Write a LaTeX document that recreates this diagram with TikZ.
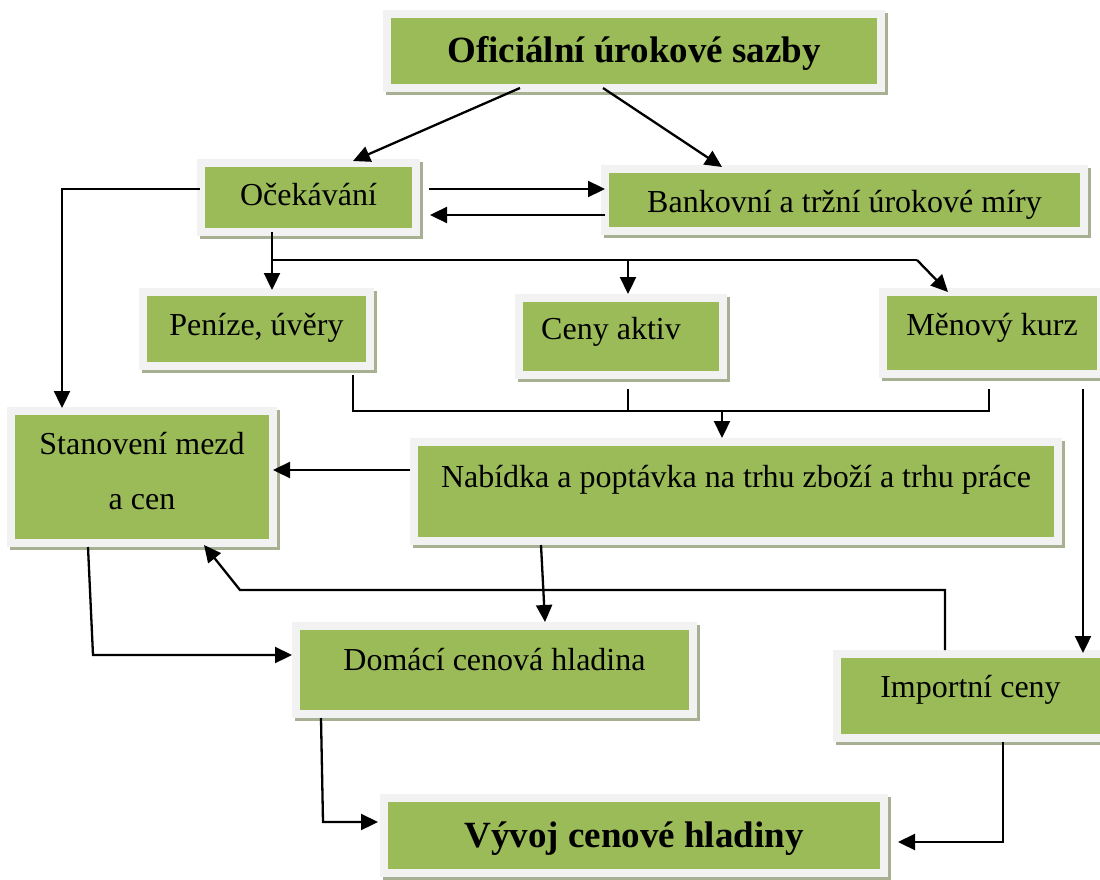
\documentclass[tikz,border=0pt]{standalone}
\usepackage{fontspec}
\setmainfont{Liberation Serif}
\usetikzlibrary{arrows.meta}
\definecolor{boxgreen}{HTML}{9BBB59}
\definecolor{framegray}{HTML}{F2F2F2}
\definecolor{shadowcol}{HTML}{A8B094}
\tikzset{
 box/.style={rectangle, fill=boxgreen, draw=framegray, line width=8pt, inner sep=0pt,
   preaction={draw=shadowcol, fill=shadowcol, line width=8pt, transform canvas={shift={(3pt,-3pt)}}},
   font=\fontsize{32}{38}\selectfont},
 bigbox/.style={box, font=\fontsize{37}{44}\selectfont\bfseries},
 tpos/.style={text height=40pt, text depth=#1},
 arr/.style={line width=2.3pt, -{Triangle[length=17pt,width=16pt]}},
 busline/.style={line width=1.6pt}
}
\begin{document}
\begin{tikzpicture}[x=1pt,y=-1pt]
\useasboundingbox (0,0) rectangle (1100,880);
% boxes
\node[bigbox, tpos=16pt, minimum width=494pt, minimum height=74pt] (ofic) at (634,51) {Oficiální úrokové sazby};
\node[box, tpos=25pt, minimum width=215pt, minimum height=69pt] (ocek) at (308.5,197.5) {Očekávání};
\node[box, tpos=16pt, minimum width=479pt, minimum height=62pt] (bank) at (844.5,200) {Bankovní a tržní úrokové míry};
\node[box, tpos=28pt, minimum width=227pt, minimum height=74pt] (peni) at (256.5,329) {Peníze, úvěry};
\node[box, tpos=34pt, minimum width=204pt, minimum height=77pt] (ceny) at (621,336.5) {Ceny aktiv\hspace*{20pt}};
\node[box, tpos=36pt, minimum width=218pt, minimum height=82pt] (menov) at (992,333) {Měnový kurz};
\node[box, align=center, font=\fontsize{32}{55}\selectfont, minimum width=262pt, minimum height=132pt] (stan) at (142,477) {Stanovení mezd\\a cen\rule[-13pt]{0pt}{13pt}};
\node[box, tpos=49pt, minimum width=644pt, minimum height=99pt] (nab) at (736,491.5) {Nabídka a poptávka na trhu zboží a trhu práce};
\node[box, tpos=40pt, minimum width=397pt, minimum height=88pt] (dom) at (494.5,670) {Domácí cenová hladina};
\node[box, tpos=38pt, minimum width=267pt, minimum height=84pt] (imp) at (970.5,696) {Importní ceny};
\node[bigbox, tpos=17pt, minimum width=500pt, minimum height=75pt] (vyv) at (634,835.5) {Vývoj cenové hladiny};
% helper coordinates
\coordinate (busL) at ([xshift=-36.5pt,yshift=-24pt]ocek.south);
\coordinate (busR) at ([xshift=-75pt,yshift=28pt]menov.north);
\coordinate (cenyTop) at ([xshift=7pt]ceny.north);
\coordinate (busB) at ([xshift=-14pt,yshift=27pt]nab.north);
\coordinate (mkB) at ([xshift=-3pt,yshift=-33pt]menov.south);
\coordinate (ic) at ([xshift=-25.5pt]imp.north);
\coordinate (corner) at ([xshift=98pt,yshift=-43pt]stan.south);
\coordinate (c12) at ([xshift=-199pt,yshift=15pt]dom.west);
\coordinate (c13) at ([xshift=-57pt,yshift=13.5pt]vyv.west);
% connectors
\draw[arr] ([xshift=-114pt,yshift=4pt]ofic.south) -- ([xshift=44.5pt,yshift=-2pt]ocek.north);
\draw[arr] ([xshift=-31pt,yshift=4pt]ofic.south) -- ([xshift=-122.5pt,yshift=-2pt]bank.north);
\draw[arr] ([xshift=9pt,yshift=8.5pt]ocek.east) -- ([xshift=4pt,yshift=11pt]bank.west);
\draw[arr] ([xshift=4pt,yshift=-15pt]bank.west) -- ([xshift=10pt,yshift=-17.5pt]ocek.east);
\draw[arr] ([xshift=3pt,yshift=8.5pt]ocek.west) -| ([xshift=-80pt,yshift=-1pt]stan.north);
\draw[arr] ([xshift=-36.5pt,yshift=4pt]ocek.south) -- ([xshift=15.5pt,yshift=-2pt]peni.north);
\draw[busline] (busL) -- (busR);
\draw[arr] (busR) -- ([xshift=-44pt,yshift=-4pt]menov.north);
\draw[arr] (cenyTop |- busL) -- (cenyTop);
\draw[busline] ([xshift=96.5pt,yshift=-5pt]peni.south) |- (mkB) -- ([xshift=-3pt,yshift=-11pt]menov.south);
\draw[busline] ([xshift=7pt,yshift=-10pt]ceny.south) -- (cenyTop |- busB);
\draw[arr] (busB) -- (busB |- nab.north);
\draw[arr] ([xshift=91pt,yshift=-11pt]menov.south) -- ([xshift=112.5pt,yshift=-3pt]imp.north);
\draw[arr] ([yshift=21.5pt]nab.west) -- ([xshift=-4pt,yshift=7pt]stan.east);
\draw[arr] ([xshift=-195pt]nab.south) -- ([xshift=50.5pt]dom.north);
\draw[arr] (ic) |- (corner) -- ([xshift=62pt,yshift=2pt]stan.south);
\draw[arr] ([xshift=-54pt]stan.south) -- (c12) -- ([yshift=15pt]dom.west);
\draw[arr] ([xshift=-173.5pt]dom.south) -- (c13) -- ([xshift=-2pt,yshift=13.5pt]vyv.west);
\draw[arr] ([xshift=32.5pt]imp.south) |- ([xshift=10pt,yshift=-6.5pt]vyv.east);
\end{tikzpicture}
\end{document}
